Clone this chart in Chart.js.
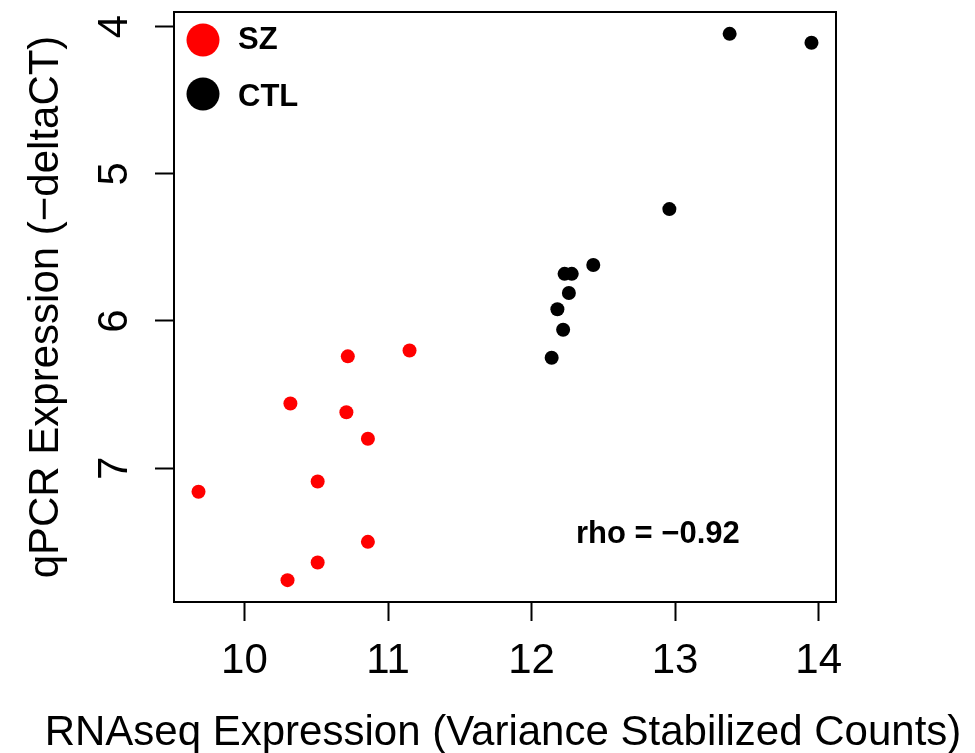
<!DOCTYPE html>
<html>
<head>
<meta charset="utf-8">
<script src="https://cdn.jsdelivr.net/npm/chart.js@4"></script>
<style>
  html, body { margin: 0; padding: 0; background: #fff; }
  #wrap { width: 975px; height: 753px; }
</style>
</head>
<body>
<div id="wrap"><canvas id="scatter" width="975" height="753"></canvas></div>
<script>
// values
var szX = [10.72, 11.15, 10.32, 10.71, 10.86, 10.51, 9.68, 10.86, 10.51, 10.30];
var szY = [6.24, 6.20, 6.56, 6.62, 6.80, 7.09, 7.16, 7.50, 7.64, 7.76];
var ctlX = [13.38, 13.95, 12.96, 12.43, 12.23, 12.28, 12.26, 12.18, 12.22, 12.14];
var ctlY = [4.05, 4.11, 5.24, 5.62, 5.68, 5.68, 5.81, 5.92, 6.06, 6.25];
var xTicks = [10, 11, 12, 13, 14];
var yTicks = [4, 5, 6, 7];
var groupNames = ["SZ", "CTL"];
var groupColors = ["#ff0000", "#000000"];
var xTitle = 'RNAseq Expression (Variance Stabilized Counts)';
var yTitle = 'qPCR Expression (\u2212deltaCT)';
var rhoText = "rho = \u22120.92";
var rhoPos = [12.88, 7.45];

var FONT = "'Liberation Sans', Arial, Helvetica, sans-serif";

function pts(xs, ys) {
  return xs.map(function(x, i) { return {x: x, y: ys[i]}; });
}
// R-style axis limits: data range widened by 4% each side
function rLimits(vals) {
  var lo = Math.min.apply(null, vals), hi = Math.max.apply(null, vals);
  var pad = (hi - lo) * 0.04;
  return [lo - pad, hi + pad];
}
var xLim = rLimits(szX.concat(ctlX));
var yLim = rLimits(szY.concat(ctlY));

var boxPlugin = {
  id: 'rbox',
  afterDraw: function(chart) {
    var ctx = chart.ctx, a = chart.chartArea;
    var xs = chart.scales.x, ys = chart.scales.y;
    ctx.save();
    ctx.strokeStyle = '#000';
    ctx.lineWidth = 2;
    ctx.strokeRect(a.left, a.top, a.right - a.left, a.bottom - a.top);

    // x title is wider than the plot, so it is drawn here (the scale title would squeeze it)
    ctx.fillStyle = '#000';
    ctx.font = '42px ' + FONT;
    ctx.textAlign = 'center';
    ctx.textBaseline = 'middle';
    ctx.fillText(xTitle, 503, 733);

    // legend, top-left inside the box
    ctx.font = 'bold 31px ' + FONT;
    ctx.textAlign = 'left';
    var rows = [40, 94];
    groupNames.forEach(function(name, i) {
      ctx.fillStyle = groupColors[i];
      ctx.beginPath();
      ctx.arc(a.left + 29, rows[i], 16.5, 0, Math.PI * 2);
      ctx.fill();
      ctx.fillStyle = '#000';
      ctx.fillText(name, a.left + 64, rows[i] + (i === 0 ? 0 : 3));
    });

    // correlation label
    ctx.textAlign = 'center';
    ctx.fillText(rhoText, xs.getPixelForValue(rhoPos[0]), ys.getPixelForValue(rhoPos[1]));
    ctx.restore();
  }
};

var chart = new Chart(document.getElementById("scatter"), {
  type: 'scatter',
  data: {
    datasets: [{
      label: groupNames[0],
      data: pts(szX, szY),
      backgroundColor: groupColors[0],
      borderWidth: 0,
      pointRadius: 7
    }, {
      label: groupNames[1],
      data: pts(ctlX, ctlY),
      backgroundColor: groupColors[1],
      borderWidth: 0,
      pointRadius: 7
    }]
  },
  options: {
    responsive: false,
    animation: false,
    devicePixelRatio: 1,
    layout: { padding: { top: 12, right: 139, left: 0, bottom: 0 } },
    plugins: { legend: { display: false }, tooltip: { enabled: false } },
    scales: {
      x: {
        type: 'linear',
        min: xLim[0], max: xLim[1],
        afterBuildTicks: function(s) { s.ticks = xTicks.map(function(v) { return {value: v}; }); },
        afterFit: function(s) { s.height = 151; s.paddingLeft = 0; s.paddingRight = 0; },
        border: { display: false },
        grid: { drawOnChartArea: false, drawTicks: true, tickLength: 19, tickWidth: 2, tickColor: '#000' },
        ticks: { color: '#000', padding: 19, font: { family: FONT, size: 42, lineHeight: 1 }, maxRotation: 0 }
      },
      y: {
        type: 'linear',
        reverse: true,
        min: yLim[0], max: yLim[1],
        afterBuildTicks: function(s) { s.ticks = yTicks.map(function(v) { return {value: v}; }); },
        afterFit: function(s) { s.width = 174; s.paddingTop = 0; s.paddingBottom = 0; },
        border: { display: false },
        grid: { drawOnChartArea: false, drawTicks: true, tickLength: 19, tickWidth: 2, tickColor: '#000' },
        ticks: { color: '#000', padding: 28, crossAlign: 'center', minRotation: 90, maxRotation: 90,
                 font: { family: FONT, size: 42, lineHeight: 1 } },
        title: {
          display: true,
          text: yTitle,
          color: '#000',
          font: { family: FONT, size: 42, lineHeight: 1 },
          padding: { top: 25, bottom: 0 }
        }
      }
    }
  },
  plugins: [boxPlugin]
});
</script>
</body>
</html>
